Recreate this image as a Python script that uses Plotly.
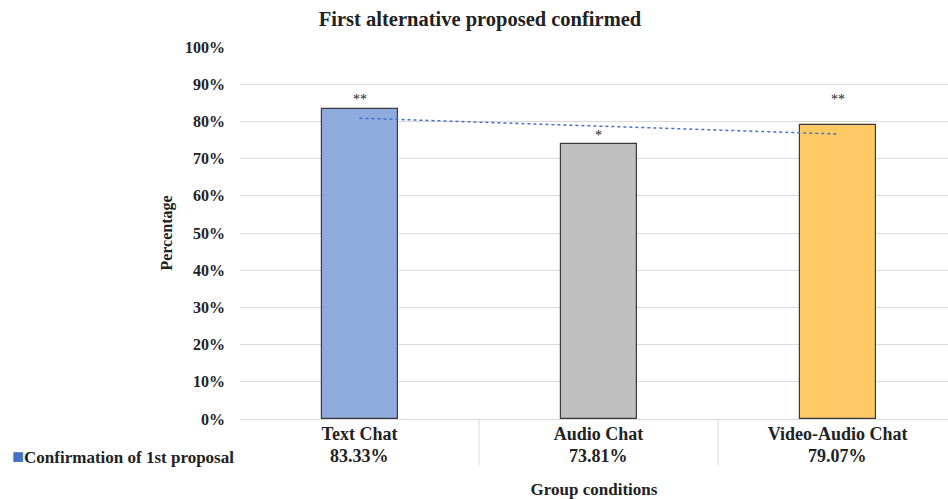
import plotly.graph_objects as go
import numpy as np

# Data
categories = ["Text Chat", "Audio Chat", "Video-Audio Chat"]
confirmation = [83.33, 73.81, 79.07]
significance = ["**", "*", "**"]
star_heights = [86.0, 76.2, 86.0]
series_name = "Confirmation of 1st proposal"
bar_colors = ["#8FAADC", "#BFBFBF", "#FFCA66"]
y_ticks = [0, 10, 20, 30, 40, 50, 60, 70, 80, 90, 100]

SERIF = "Liberation Serif, Times New Roman, serif"
x_idx = np.arange(len(categories))

fig = go.Figure()

fig.add_trace(go.Bar(
    x=x_idx, y=confirmation, width=0.318,
    marker=dict(color=bar_colors, line=dict(color="#3a3a3a", width=1.2)),
    showlegend=False, hoverinfo="skip",
))

# Linear trendline through the series
slope, intercept = np.polyfit(x_idx, confirmation, 1)
fig.add_trace(go.Scatter(
    x=x_idx, y=slope * x_idx + intercept, mode="lines",
    line=dict(color="#4472C4", width=1.5, dash="dot"),
    showlegend=False, hoverinfo="skip",
))

# Significance markers
for i, (s, h) in enumerate(zip(significance, star_heights)):
    fig.add_annotation(x=i, y=h, text=s, showarrow=False, xref="x", yref="y",
                       font=dict(family=SERIF, size=14, color="#222"))

# Data table row beneath the axis
for i, v in enumerate(confirmation):
    fig.add_annotation(x=i, y=0, yref="paper", yanchor="middle", yshift=-37, text=f"{v:.2f}%",
                       showarrow=False, font=dict(family=SERIF, size=18, color="#222", weight="bold"))
fig.add_annotation(x=0, xref="paper", xanchor="right", xshift=-4, y=0, yref="paper",
                   yanchor="middle", yshift=-37,
                   text=f"<span style='color:#4472C4;font-size:20px'>■</span>{series_name}",
                   showarrow=False,
                   font=dict(family=SERIF, size=17, color="#222", weight="bold"))
for b in (0.5, 1.5):
    fig.add_shape(type="line", xref="x", yref="paper", x0=b, x1=b, y0=0, y1=-0.125,
                  line=dict(color="#D9D9D9", width=1))

fig.update_layout(
    width=948, height=499,
    margin=dict(l=240, r=0, t=47, b=80),
    paper_bgcolor="white", plot_bgcolor="white",
    title=dict(text="First alternative proposed confirmed", x=480 / 948, xanchor="center",
               y=1 - 19 / 499, yanchor="middle",
               font=dict(family=SERIF, size=20.5, color="#222", weight="bold")),
    xaxis=dict(range=[-0.5, 2.462], tickmode="array", tickvals=list(x_idx), ticktext=categories,
               tickfont=dict(family=SERIF, size=18, color="#222", weight="bold"),
               showgrid=False, zeroline=False, showline=False, ticks="", ticklabelstandoff=2,
               title=dict(text="Group conditions", standoff=40,
                          font=dict(family=SERIF, size=17, color="#222", weight="bold"))),
    yaxis=dict(range=[0, 100], tickmode="array", tickvals=y_ticks,
               ticktext=[f"{t}%" for t in y_ticks],
               tickfont=dict(family=SERIF, size=16, color="#222", weight="bold"),
               showgrid=True, gridcolor="#D9D9D9", gridwidth=1, zeroline=True,
               zerolinecolor="#D9D9D9", zerolinewidth=1, ticks="", ticklabelstandoff=14,
               title=dict(text="Percentage", standoff=8,
                          font=dict(family=SERIF, size=16, color="#222", weight="bold"))),
    bargap=0,
)

fig.write_html("out.html")
